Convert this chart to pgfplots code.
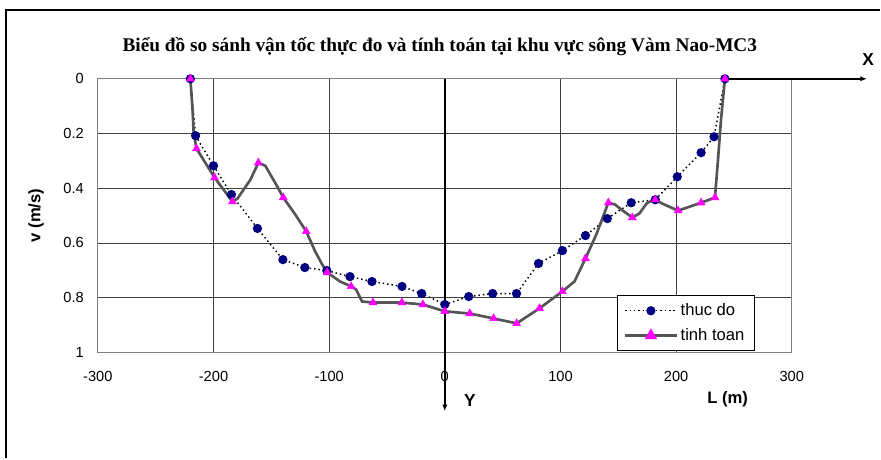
\documentclass[border=0pt]{standalone}
\usepackage{pgfplots}
\pgfplotsset{compat=1.18}
\usepackage{fontspec}
\setmainfont{Liberation Sans}
\newfontfamily\titlefont{Liberation Serif}
\usetikzlibrary{arrows.meta}
\definecolor{navyc}{RGB}{0,0,128}
\definecolor{magc}{RGB}{255,0,255}
\definecolor{linec}{RGB}{85,85,85}
\begin{document}
\begin{tikzpicture}
\begin{axis}[
  scale only axis,
  width=521.25pt, height=205.5pt,
  xmin=-300, xmax=300, ymin=0, ymax=1,
  y dir=reverse,
  clip=false,
  xtick={-300,-200,-100,0,100,200,300},
  xticklabels={-300,-200,-100,0,100,200,300},
  ytick={0,0.2,0.4,0.6,0.8,1},
  yticklabels={0,0.2,0.4,0.6,0.8,1},
  major tick length=0pt,
  tick label style={font=\fontsize{11}{13}\selectfont},
  yticklabel style={xshift=-7pt},
  xticklabel style={yshift=-11pt},
  grid=major,
  major grid style={black!75, line width=0.6pt},
  axis line style={black!50, line width=0.6pt},
  legend style={at={(0.748,0.208)}, anchor=north west, draw=black, fill=white,
    font=\fontsize{12.5}{14}\selectfont, cells={anchor=west}, row sep=4pt,
    inner xsep=5pt, inner ysep=4pt},
  legend image code/.code={\draw[mark repeat=2,mark phase=2] plot coordinates {(0cm,0cm)(0.68cm,0cm)(1.36cm,0cm)};},
]
% thuc do
\addplot[black, line width=1.1pt, dash pattern=on 1.1pt off 2.2pt,
  mark=*, mark size=2.9pt, mark options={solid, fill=navyc, draw=navyc}]
coordinates {
(-220,0) (-215.5,0.208) (-200,0.318) (-184.5,0.423) (-162,0.547) (-140,0.661)
(-121,0.690) (-102,0.701) (-82,0.723) (-63,0.741) (-37,0.759) (-20,0.785)
(0,0.825) (20.7,0.796) (41.4,0.785) (62,0.785) (81,0.675) (101.7,0.628)
(121.6,0.573) (140.5,0.511) (161.2,0.453) (182,0.442) (201,0.358)
(221.6,0.270) (232.8,0.212) (242.2,0)
};
\addlegendentry{thuc do}
% tinh toan line
\addplot[linec, line width=2pt, no marks, forget plot] coordinates {
(-220,0) (-218.1,0.113) (-217.2,0.193) (-214.7,0.255) (-199.1,0.361)
(-183.6,0.449) (-179.3,0.438) (-168.1,0.369) (-161.2,0.307) (-155.2,0.318)
(-144.8,0.394) (-139.7,0.434) (-129.3,0.496) (-119.8,0.558) (-112.1,0.631)
(-106,0.679) (-101.7,0.708) (-90.5,0.741) (-81,0.759) (-76.7,0.770)
(-71.6,0.814) (-62.1,0.818) (-37.1,0.818) (-19,0.825) (0,0.850) (21.6,0.858)
(42.2,0.876) (62.1,0.894) (81.9,0.839) (101.7,0.777) (112.1,0.741)
(121.6,0.657) (131,0.569) (141.4,0.453) (147.4,0.460) (152.6,0.478)
(162.1,0.507) (168.1,0.493) (175,0.453) (181.9,0.442) (187.9,0.456)
(201.7,0.482) (221.6,0.453) (233.6,0.434) (236.2,0.296) (238.8,0.150) (242.2,0)
};
% tinh toan markers
\addplot[only marks, mark=triangle*, mark size=3.4pt, mark options={fill=magc, draw=magc}, forget plot]
coordinates {
(-220,0) (-214.7,0.255) (-199.1,0.361) (-183.6,0.449) (-161.2,0.307)
(-139.7,0.434) (-119.8,0.558) (-101.7,0.708) (-81,0.759) (-62.1,0.818)
(-37.1,0.818) (-19,0.825) (0,0.850) (21.6,0.858) (42.2,0.876) (62.1,0.894)
(81.9,0.839) (101.7,0.777) (121.6,0.657) (141.4,0.453) (162.1,0.507)
(181.9,0.442) (201.7,0.482) (221.6,0.453) (233.6,0.434) (242.2,0)
};
\addlegendimage{linec, line width=2pt, mark=triangle*, mark size=3.4pt, mark options={fill=magc, draw=magc}}
\addlegendentry{tinh toan}
% decorations
\draw[black, line width=1.1pt, -{Latex[length=5pt,width=4pt]}] (axis cs:0,0) -- (axis cs:0,1.215);
\draw[black, line width=1.1pt, -{Latex[length=5pt,width=4pt]}] (axis cs:242,0) -- (axis cs:365,0);
\node[font=\bfseries\fontsize{13}{15}\selectfont] at (axis cs:366,-0.069) {X};
\node[font=\bfseries\fontsize{13}{15}\selectfont] at (axis cs:21.6,1.175) {Y};
\node[font=\bfseries\fontsize{12.5}{14}\selectfont] at (axis cs:244.6,1.171) {L (m)};
\node[font=\bfseries\fontsize{12.5}{14}\selectfont, rotate=90] at (axis cs:-353.5,0.5) {v (m/s)};
\node[font=\titlefont\bfseries\fontsize{14.5}{17}\selectfont] at (axis cs:-4.3,-0.117) {Biểu đồ so sánh vận tốc thực đo và tính toán tại khu vực sông Vàm Nao-MC3};
% outer frame and bounding box
\path (axis cs:-384.6,-0.288) rectangle (axis cs:376.4,1.387);
\draw[black, line width=1.3pt] (axis cs:-379.4,1.387) -- (axis cs:-379.4,-0.252) -- (axis cs:376.4,-0.252);
\end{axis}
\end{tikzpicture}
\end{document}
